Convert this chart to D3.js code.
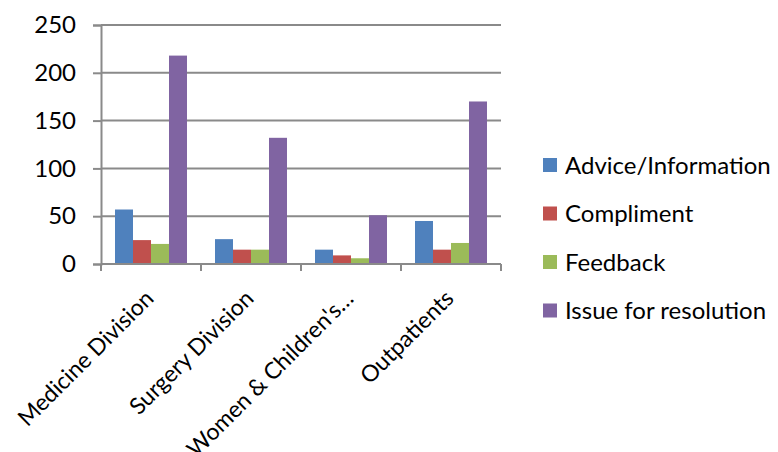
<!DOCTYPE html>
<html>
<head>
<meta charset="utf-8">
<script src="https://cdn.jsdelivr.net/npm/d3@7"></script>
<style>
  body { margin: 0; background: #fff; }
  text { font-family: Lato, "Liberation Sans", sans-serif; fill: #000; }
</style>
</head>
<body>
<div id="grafica"></div>
<script>
const categories = ["Medicine Division", "Surgery Division", "Women & Children's\u2026", "Outpatients"];
const seriesNames = ["Advice/Information", "Compliment", "Feedback", "Issue for resolution"];
const advice = [57, 26, 15, 45];
const compliment = [25, 15, 9, 15];
const feedback = [21, 15, 6, 22];
const issue = [218, 132, 51, 170];
const yTicks = [0, 50, 100, 150, 200, 250];
const colors = ["#4F81BD", "#C0504D", "#9BBB59", "#8064A2"];

function crearGrafica() {
  const canvas = d3.select("#grafica");
  canvas.select("svg").remove();

  const width = 778;
  const height = 452;
  const margin = { top: 25, left: 101, bottom: 188, right: 277 };
  const iwidth = width - margin.left - margin.right;
  const iheight = height - margin.top - margin.bottom;

  const allSeries = [advice, compliment, feedback, issue];
  const datos = categories.map((c, i) => ({
    name: c,
    values: seriesNames.map((s, j) => ({ key: s, value: allSeries[j][i], color: colors[j] }))
  }));

  const svg = canvas.append("svg").attr("width", width).attr("height", height);
  const g = svg.append("g").attr("transform", `translate(${margin.left},${margin.top})`);

  const y = d3.scaleLinear().domain([0, 250]).range([iheight, 0]);
  const x0 = d3.scaleBand().domain(categories).range([0, iwidth]).paddingInner(0).paddingOuter(0);
  const x1 = d3.scaleBand().domain(seriesNames).range([14, x0.bandwidth() - 14]);

  const gridColor = "#8a8a8a";

  // gridlines
  g.append("g")
    .selectAll("line")
    .data(yTicks)
    .enter()
    .append("line")
    .attr("x1", 0)
    .attr("x2", iwidth)
    .attr("y1", (d) => y(d))
    .attr("y2", (d) => y(d))
    .attr("stroke", gridColor)
    .attr("stroke-width", 2);

  // bars
  const groups = g.selectAll(".grp")
    .data(datos)
    .enter()
    .append("g")
    .attr("class", "grp")
    .attr("transform", (d) => `translate(${x0(d.name)},0)`);

  groups.selectAll("rect")
    .data((d) => d.values)
    .enter()
    .append("rect")
    .attr("x", (d) => x1(d.key))
    .attr("y", (d) => y(d.value))
    .attr("width", x1.bandwidth())
    .attr("height", (d) => iheight - y(d.value))
    .style("fill", (d) => d.color);

  // y axis
  const yAxis = g.append("g")
    .call(d3.axisLeft(y).tickValues(yTicks).tickSize(8).tickPadding(17));
  yAxis.select(".domain").attr("stroke", gridColor).attr("stroke-width", 2);
  yAxis.selectAll(".tick line").attr("stroke", gridColor).attr("stroke-width", 2);
  yAxis.selectAll(".tick text").style("font-size", "24px").style("font-family", "Lato, sans-serif");

  // x axis
  const xAxis = g.append("g").attr("transform", `translate(0,${iheight})`);
  xAxis.append("line")
    .attr("x1", 0).attr("x2", iwidth)
    .attr("stroke", gridColor).attr("stroke-width", 2);
  xAxis.selectAll(".xt")
    .data(d3.range(categories.length + 1))
    .enter()
    .append("line")
    .attr("x1", (d) => d * x0.step())
    .attr("x2", (d) => d * x0.step())
    .attr("y1", 0).attr("y2", 7)
    .attr("stroke", gridColor).attr("stroke-width", 2);
  xAxis.selectAll(".xl")
    .data(categories)
    .enter()
    .append("text")
    .attr("text-anchor", "end")
    .attr("transform", (d) => `translate(${x0(d) + x0.bandwidth() / 2 + 4},${36}) rotate(-45)`)
    .style("font-size", "23px")
    .text((d) => d);

  // legend
  const legend = svg.append("g").attr("transform", "translate(543,165)");
  const items = legend.selectAll("g")
    .data(seriesNames)
    .enter()
    .append("g")
    .attr("transform", (d, i) => `translate(0,${i * 48.5})`);
  items.append("rect")
    .attr("x", 0).attr("y", -7)
    .attr("width", 14).attr("height", 14)
    .style("fill", (d, i) => colors[i]);
  items.append("text")
    .attr("x", 22)
    .attr("dy", "0.36em")
    .style("font-size", "24px")
    .text((d) => d);
}

crearGrafica();
</script>
</body>
</html>
